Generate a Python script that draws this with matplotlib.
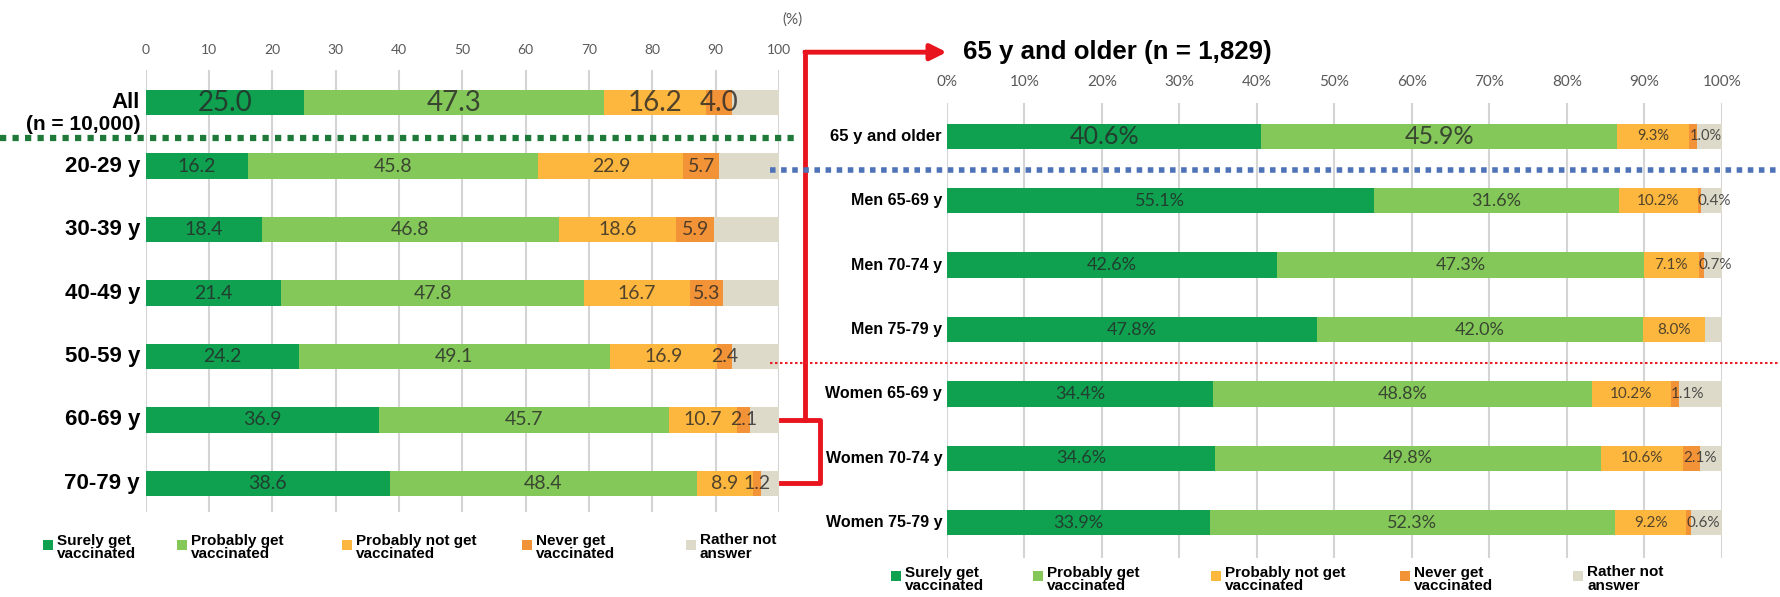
import matplotlib
matplotlib.use('Agg')
import matplotlib.pyplot as plt
from matplotlib.patches import Rectangle
from matplotlib import font_manager

plt.rcParams['font.family'] = ['Liberation Sans', 'DejaVu Sans']

# condensed bold face for the category labels, if present
names = {f.name for f in font_manager.fontManager.ttflist}
narrow = 'Liberation Sans Narrow' in names
label_family = ['Liberation Sans Narrow', 'DejaVu Sans'] if narrow else ['Liberation Sans', 'DejaVu Sans']
scale = 1.0 / 0.82 if narrow else 1.0

# answer categories and colours
answers = ['Surely get\nvaccinated', 'Probably get\nvaccinated', 'Probably not get\nvaccinated',
           'Never get\nvaccinated', 'Rather not\nanswer']
colors = ['#0FA050', '#84C85A', '#FDB73E', '#F29338', '#DDDAC9']

# all respondents by age group (%)
left_groups = ['All', '20-29 y', '30-39 y', '40-49 y', '50-59 y', '60-69 y', '70-79 y']
left_surely = [25.0, 16.2, 18.4, 21.4, 24.2, 36.9, 38.6]
left_probably = [47.3, 45.8, 46.8, 47.8, 49.1, 45.7, 48.4]
left_prob_not = [16.2, 22.9, 18.6, 16.7, 16.9, 10.7, 8.9]
left_never = [4.0, 5.7, 5.9, 5.3, 2.4, 2.1, 1.2]
left_rather = [7.5, 9.4, 10.3, 8.8, 7.4, 4.6, 2.9]

# 65 and older by sex and age (%)
right_groups = ['65 y and older', 'Men 65-69 y', 'Men 70-74 y', 'Men 75-79 y',
                'Women 65-69 y', 'Women 70-74 y', 'Women 75-79 y']
right_surely = [40.6, 55.1, 42.6, 47.8, 34.4, 34.6, 33.9]
right_probably = [45.9, 31.6, 47.3, 42.0, 48.8, 49.8, 52.3]
right_prob_not = [9.3, 10.2, 7.1, 8.0, 10.2, 10.6, 9.2]
right_never = [1.0, 0.4, 0.7, 0.0, 1.1, 2.1, 0.6]
right_rather = [3.2, 2.7, 2.3, 2.2, 5.5, 2.9, 4.0]

W, H = 1780, 597
fig = plt.figure(figsize=(W / 100, H / 100), dpi=100)


def fx(px):
    return px / W


def fy(py):
    return 1 - py / H


ax_l = fig.add_axes([fx(145.7), fy(512), 633.3 / W, 442 / H])
ax_r = fig.add_axes([fx(946.7), fy(558), 775.3 / W, 455 / H])

txt_col = '#262626'


def draw_panel(ax, groups, series, bar_h, pct):
    rows = list(range(len(groups)))
    left = [0.0] * len(groups)
    for k, vals in enumerate(series):
        ax.barh(rows, vals, left=left, height=bar_h, color=colors[k], linewidth=0, zorder=2)
        if k < 4:
            for i, v in enumerate(vals):
                if v <= 0:
                    continue
                if pct:
                    s = f'{v:.1f}%'
                    if i == 0:
                        fs = 18 if k < 2 else 10.5
                    else:
                        fs = 13 if k < 2 else 11
                else:
                    s = f'{v:.1f}'
                    fs = 20 if i == 0 else 14
                if pct and k == 3:
                    ax.text(left[i], i, s, ha='left', va='center', fontsize=fs,
                            family='Lato', color=txt_col, alpha=0.8, zorder=3)
                else:
                    ax.text(left[i] + v / 2, i, s, ha='center', va='center', fontsize=fs,
                            family='Lato', color=txt_col, alpha=0.8, zorder=3)
        left = [a + b for a, b in zip(left, vals)]
    ax.set_xlim(0, 100)
    ax.set_xticks(range(0, 101, 10))
    ax.grid(axis='x', color='#D4D4D4', lw=1.5)
    ax.set_axisbelow(True)
    ax.set_yticks([])
    for sp in ax.spines.values():
        sp.set_visible(False)
    ax.tick_params(axis='x', top=True, bottom=False, labeltop=True, labelbottom=False,
                   length=0, pad=10, labelcolor='#595959')


draw_panel(ax_l, left_groups,
           [left_surely, left_probably, left_prob_not, left_never, left_rather], 0.394, False)
ax_l.set_ylim(6.449, -0.512)
for lab in ax_l.get_xticklabels():
    lab.set_fontsize(10)
    lab.set_family('Lato')

draw_panel(ax_r, right_groups,
           [right_surely, right_probably, right_prob_not, right_never, right_rather], 0.388, True)
ax_r.set_ylim(6.543, -0.512)
ax_r.set_xticklabels([f'{t}%' for t in range(0, 101, 10)])
for lab in ax_r.get_xticklabels():
    lab.set_fontsize(11)
    lab.set_family('Lato')

# row labels
for i, g in enumerate(left_groups):
    ax_l.text(-0.9, i, g, ha='right', va='center', fontsize=16 * scale, weight='bold',
              family=label_family)
ax_l.text(-0.9, 0.34, '(n = 10,000)', ha='right', va='center', fontsize=15 * scale,
          weight='bold', family=label_family)
for i, g in enumerate(right_groups):
    ax_r.text(-0.6, i, g, ha='right', va='center', fontsize=(12 if i == 0 else 11.5) * scale,
              weight='bold', family=label_family)

ax_l.text(102.2, -1.3, '(%)', ha='center', va='center', fontsize=11, family='Lato', color='#595959')
ax_r.text(2.1, -1.3, '65 y and older (n = 1,829)', ha='left', va='center',
          fontsize=18.6 * scale, weight='bold', family=label_family)

# separators
ax_l.plot([-23, 103], [0.56, 0.56], color='#1F7A3A', lw=4.5, ls=(0, (1, 1)),
          dash_capstyle='butt', clip_on=False, zorder=4)
ax_r.plot([-22.8, 107.5], [0.527, 0.527], color='#4F73B8', lw=4, ls=(0, (1, 1)),
          dash_capstyle='butt', clip_on=False, zorder=4)
ax_r.plot([-22.8, 107.5], [3.52, 3.52], color='#E8202A', lw=1.5, ls=(0, (1.2, 1.2)),
          clip_on=False, zorder=4)

# bracket from 60-69 and 70-79 up to the 65+ panel
red = '#E8141E'
ax_l.plot([100.3, 106.5, 106.5, 100.3], [5.0, 5.0, 6.0, 6.0], color=red, lw=3.5,
          solid_joinstyle='round', clip_on=False, zorder=4)
tip = ax_r.transData.transform((0, -1.3))
y_top = ax_l.transData.inverted().transform(tip)[1]
ax_l.plot([104.1, 104.1], [5.0, y_top], color=red, lw=3.5, clip_on=False, zorder=4)
ax_l.annotate('', xy=(0, -1.3), xycoords=ax_r.transData,
              xytext=(104.1, y_top), textcoords=ax_l.transData,
              arrowprops=dict(arrowstyle='-|>', color=red, lw=3.5, mutation_scale=24,
                              shrinkA=0, shrinkB=0), annotation_clip=False)

# legends
left_leg_x = [48, 182, 347, 527, 691]
right_leg_x = [896, 1038, 1216, 1405, 1578]
for xs, ty, my in [(left_leg_x, 547.5, 545), (right_leg_x, 579.5, 576)]:
    for k, x in enumerate(xs):
        fig.add_artist(Rectangle((fx(x - 5), fy(my + 5)), 10 / W, 10 / H,
                                 transform=fig.transFigure, color=colors[k], lw=0))
        fig.text(fx(x + 9), fy(ty), answers[k], ha='left', va='center', fontsize=11 * scale,
                 weight='bold', family=label_family, linespacing=1.0)

fig.savefig('out.png', dpi=100)
